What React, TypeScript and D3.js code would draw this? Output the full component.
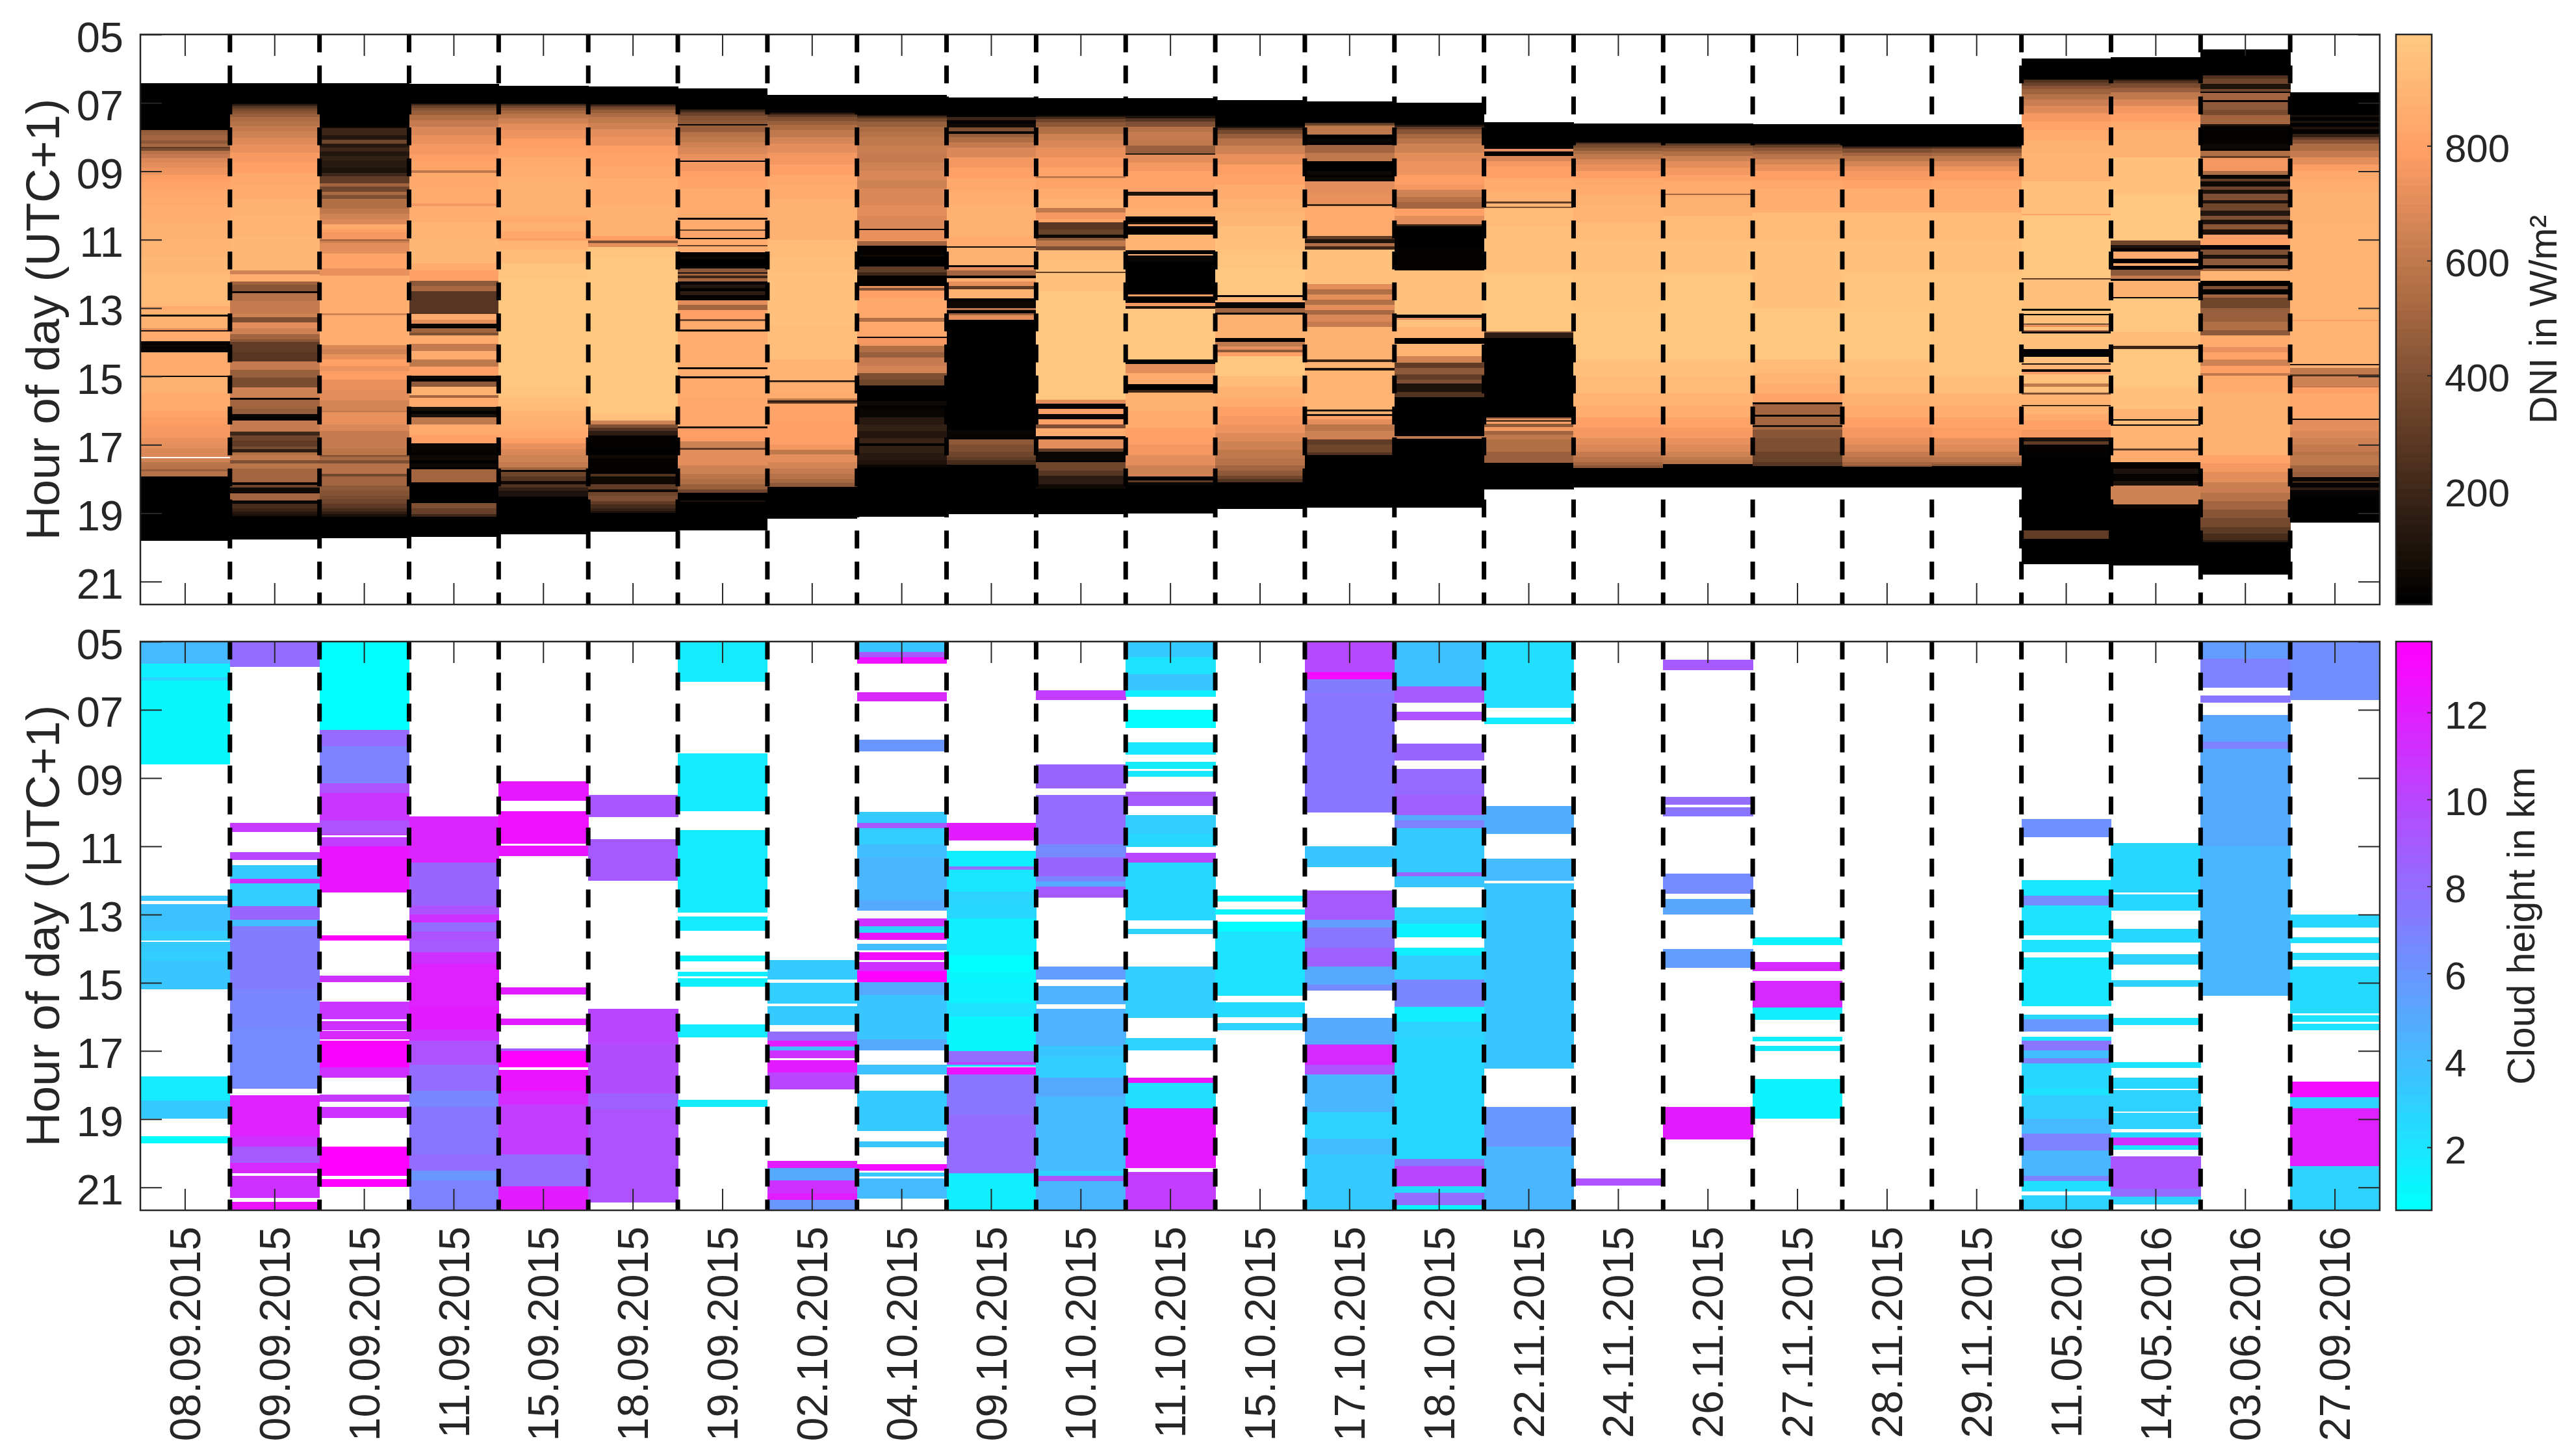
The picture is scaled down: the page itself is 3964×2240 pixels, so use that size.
import { useEffect, useRef } from 'react';
import * as d3 from 'd3';

const dates = ['08.09.2015', '09.09.2015', '10.09.2015', '11.09.2015', '15.09.2015', '18.09.2015', '19.09.2015', '02.10.2015', '04.10.2015', '09.10.2015', '10.10.2015', '11.10.2015', '15.10.2015', '17.10.2015', '18.10.2015', '22.11.2015', '24.11.2015', '26.11.2015', '27.11.2015', '28.11.2015', '29.11.2015', '11.05.2016', '14.05.2016', '03.06.2016', '27.09.2016'];
const hourTicks = [5, 7, 9, 11, 13, 15, 17, 19, 21];
const hourRange = [5, 21.67];
const dniTicks = [200, 400, 600, 800];
const dniRange = [1, 994];
const cloudTicks = [2, 4, 6, 8, 10, 12];
const cloudRange = [0.55, 13.63];

// DNI per day: [hour the step starts, W/m2], null closes the day or marks a gap
const dni0809 = [[6.42,5],[7.8,440],[7.86,470],[7.95,500],[8.1,450],[8.2,520],[8.29,300],[8.33,380],[8.4,560],[8.5,620],[8.62,670],[8.75,710],[8.9,740],[9.1,780],[9.3,810],[9.5,830],[9.75,850],[10,860],[10.5,880],[11,900],[11.5,915],[12,930],[12.9,925],[12.95,840],[13.05,880],[13.2,60],[13.24,880],[13.6,700],[13.64,120],[13.68,850],[13.98,20],[14.08,60],[14.12,20],[14.3,850],[14.98,50],[15.02,880],[15.5,840],[16,810],[16.2,790],[16.4,770],[16.6,750],[16.8,730],[16.95,700],[17.1,680],[17.35,null],[17.39,640],[17.5,590],[17.6,560],[17.72,480],[17.78,560],[17.92,5],[19.8,null]];
const dni0909 = [[6.42,5],[7.01,60],[7.04,130],[7.07,200],[7.1,270],[7.14,330],[7.18,380],[7.24,430],[7.32,480],[7.42,530],[7.54,570],[7.68,610],[7.84,650],[8.02,690],[8.22,730],[8.46,770],[8.74,800],[9.05,825],[9.4,850],[9.8,870],[10.3,890],[10.9,905],[11.5,915],[11.9,650],[12.02,860],[12.22,500],[12.32,420],[12.5,60],[12.56,560],[12.8,620],[13.17,650],[13.26,400],[13.42,700],[13.6,640],[13.76,500],[13.92,430],[14,300],[14.3,270],[14.57,620],[14.8,480],[15.04,380],[15.32,640],[15.62,50],[15.68,500],[15.95,460],[16.1,40],[16.18,10],[16.26,30],[16.3,620],[16.62,200],[16.72,350],[16.88,300],[17.05,380],[17.13,150],[17.22,550],[17.3,600],[17.45,400],[17.55,580],[17.7,500],[18.1,30],[18.17,350],[18.25,60],[18.42,500],[18.62,40],[18.72,230],[18.85,180],[18.95,120],[19.02,80],[19.08,5],[19.77,null]];
const dni1009 = [[6.42,5],[7.69,60],[7.74,200],[7.95,120],[8.08,350],[8.2,130],[8.3,200],[8.42,110],[8.55,170],[8.68,130],[8.9,100],[9.05,200],[9.15,300],[9.35,500],[9.45,350],[9.6,520],[9.7,400],[9.8,550],[10.1,600],[10.25,650],[10.4,680],[10.55,850],[10.7,780],[10.8,750],[10.98,520],[11.05,640],[11.1,700],[11.4,820],[11.85,720],[12.05,860],[13.16,650],[13.22,860],[14.08,680],[14.2,640],[14.35,720],[14.5,800],[14.7,740],[14.85,780],[15.1,720],[15.4,700],[15.7,660],[16,600],[16.05,720],[16.4,680],[16.6,620],[17.1,580],[17.3,420],[17.35,520],[17.45,400],[17.55,560],[17.85,350],[17.92,500],[18.2,450],[18.35,410],[18.5,380],[18.6,350],[18.72,290],[18.85,220],[18.95,150],[19.03,80],[19.1,5],[19.73,null]];
const dni1109 = [[6.45,5],[7.01,80],[7.04,200],[7.08,330],[7.14,410],[7.22,480],[7.35,550],[7.5,620],[7.7,670],[7.95,720],[8.2,760],[8.5,790],[8.7,820],[8.98,600],[9.04,830],[9.5,850],[9.95,750],[10.02,860],[10.5,890],[11,905],[11.7,840],[11.9,800],[12.2,450],[12.35,520],[12.5,280],[13.17,850],[13.35,700],[13.45,40],[13.55,10],[13.6,500],[13.72,400],[13.8,850],[14.05,620],[14.25,850],[14.5,600],[14.72,800],[14.97,50],[15.08,10],[15.15,450],[15.3,870],[15.55,500],[15.62,840],[15.9,80],[16,20],[16.1,80],[16.2,600],[16.4,850],[16.7,800],[16.95,40],[17.2,20],[17.3,50],[17.45,10],[17.55,60],[17.65,10],[17.72,500],[18.1,5],[18.7,400],[18.85,320],[19.02,200],[19.1,5],[19.69,null]];
const dni1509 = [[6.5,5],[7.01,70],[7.03,170],[7.06,280],[7.1,370],[7.15,450],[7.22,520],[7.32,590],[7.45,650],[7.6,700],[7.8,740],[8.05,780],[8.3,810],[8.6,840],[8.9,860],[9.2,875],[9.57,885],[10.33,850],[10.5,870],[10.75,835],[10.97,790],[11.03,890],[11.3,930],[11.7,965],[12.1,985],[12.5,992],[15,985],[15.3,965],[15.6,940],[15.8,920],[16,900],[16.2,885],[16.43,865],[16.6,830],[16.8,790],[16.95,730],[17.13,670],[17.3,640],[17.5,610],[17.65,500],[17.73,40],[17.8,350],[17.92,280],[18.05,60],[18.15,250],[18.25,170],[18.35,100],[18.52,5],[19.62,null]];
const dni1809 = [[6.53,5],[7.03,90],[7.06,200],[7.09,300],[7.13,380],[7.2,470],[7.3,540],[7.42,600],[7.58,650],[7.78,700],[8,740],[8.25,780],[8.5,810],[8.85,835],[9.2,855],[9.6,865],[10,875],[10.5,885],[10.9,790],[11.03,400],[11.1,700],[11.22,970],[11.5,980],[16.1,950],[16.3,650],[16.4,400],[16.5,250],[16.6,150],[16.72,30],[17.1,10],[17.3,60],[17.4,20],[17.85,250],[17.92,60],[18.15,300],[18.3,60],[18.38,350],[18.5,400],[18.65,300],[18.75,230],[18.85,170],[18.93,100],[18.99,5],[19.53,null]];
const dni1909 = [[6.57,5],[7.19,130],[7.22,220],[7.28,340],[7.38,410],[7.5,450],[7.63,40],[7.67,480],[7.85,560],[8,600],[8.15,640],[8.3,680],[8.5,730],[8.68,30],[8.73,760],[9,800],[9.2,820],[9.5,840],[9.8,850],[10.36,20],[10.41,850],[10.7,300],[10.74,820],[10.94,20],[10.99,850],[11.15,300],[11.2,850],[11.37,20],[11.5,60],[11.55,10],[11.78,40],[11.85,450],[11.95,100],[12,500],[12.06,200],[12.12,500],[12.22,40],[12.32,120],[12.42,30],[12.5,150],[12.62,20],[12.77,700],[12.9,500],[13.05,800],[13.33,350],[13.38,850],[13.63,20],[13.68,860],[14.74,50],[14.78,860],[15,20],[15.05,840],[15.6,830],[16.47,100],[16.51,780],[16.9,650],[17.08,300],[17.15,700],[17.6,640],[17.85,590],[18,550],[18.15,470],[18.3,350],[18.41,5],[18.62,100],[18.66,5],[19.5,null]];
const dni0210 = [[6.76,5],[7.28,100],[7.31,210],[7.35,310],[7.42,400],[7.52,480],[7.65,540],[7.8,600],[8,660],[8.2,710],[8.45,750],[8.8,800],[9.1,830],[9.4,850],[9.8,870],[10.3,885],[11,920],[11.5,945],[12,955],[13.5,935],[14.5,890],[15.12,200],[15.17,860],[15.5,840],[15.65,600],[15.7,150],[15.76,300],[15.8,820],[16.3,800],[17,760],[17.15,600],[17.28,700],[17.5,660],[17.7,610],[17.85,570],[18,520],[18.12,440],[18.23,5],[19.15,null]];
const dni0410 = [[6.76,5],[7.36,120],[7.4,260],[7.45,380],[7.55,470],[7.7,530],[7.85,570],[8,600],[8.25,630],[8.5,610],[8.75,650],[9,680],[9.25,650],[9.5,670],[10,700],[10.3,680],[10.69,60],[10.73,720],[11,740],[11.05,500],[11.17,20],[11.45,50],[11.5,10],[11.78,300],[11.95,200],[12.05,30],[12.36,700],[12.42,400],[12.48,800],[12.7,830],[13.28,550],[13.4,830],[13.83,60],[13.88,760],[14.1,550],[14.3,480],[14.45,620],[14.7,660],[14.9,400],[15.1,350],[15.27,5],[15.73,60],[15.85,20],[15.95,40],[16.2,130],[16.4,170],[16.6,120],[16.8,180],[16.95,30],[17.03,170],[17.25,130],[17.45,100],[17.58,40],[17.65,5],[19.1,null]];
const dni0910 = [[6.84,5],[7.42,200],[7.5,30],[7.6,60],[7.72,400],[7.83,40],[7.9,480],[8,540],[8.15,620],[8.3,680],[8.6,750],[8.9,800],[9.2,830],[9.6,860],[10,880],[10.5,870],[10.9,850],[11.2,60],[11.24,870],[11.74,30],[11.8,700],[11.9,500],[12.05,40],[12.12,860],[12.22,700],[12.35,300],[12.45,870],[12.71,30],[12.82,60],[13,600],[13.06,20],[13.15,500],[13.22,700],[13.35,5],[16.55,40],[16.75,30],[16.85,450],[17,400],[17.2,350],[17.35,300],[17.45,220],[17.58,5],[19.02,null]];
const dni1010 = [[6.87,5],[7.38,80],[7.42,220],[7.47,350],[7.56,450],[7.7,550],[7.9,640],[8.1,680],[8.3,720],[8.6,770],[8.9,810],[9.14,600],[9.2,820],[9.5,850],[9.8,870],[10.08,600],[10.2,760],[10.4,820],[10.5,280],[10.7,330],[10.85,50],[10.95,450],[11.02,600],[11.2,400],[11.31,920],[11.6,950],[11.93,300],[11.97,960],[12.5,990],[15.68,700],[15.8,30],[15.95,800],[16.1,40],[16.25,800],[16.4,400],[16.52,850],[16.75,40],[16.85,700],[17.1,300],[17.2,40],[17.45,30],[17.5,350],[17.75,280],[17.9,150],[18.15,60],[18.28,5],[19.02,null]];
const dni1110 = [[6.87,5],[7.38,100],[7.45,280],[7.55,400],[7.7,560],[7.85,620],[8.1,600],[8.25,480],[8.47,120],[8.52,700],[8.75,760],[9,810],[9.6,100],[9.72,850],[10.1,870],[10.33,20],[10.5,100],[10.55,800],[10.6,20],[10.85,900],[11.32,30],[11.42,900],[11.46,40],[11.65,5],[12.6,800],[12.66,5],[12.85,750],[12.95,100],[13.02,980],[14.5,5],[14.63,700],[14.9,850],[15.22,5],[15.4,200],[15.47,870],[16,840],[16.5,800],[17,750],[17.3,700],[17.6,650],[17.93,5],[18.04,300],[18.1,40],[18.2,5],[19,null]];
const dni1510 = [[6.92,5],[7.69,120],[7.74,260],[7.8,370],[7.9,470],[8.05,560],[8.25,640],[8.5,720],[8.8,780],[9.1,820],[9.4,850],[9.8,885],[10.2,910],[10.6,940],[11,960],[11.4,975],[11.8,985],[12.63,20],[12.67,900],[12.83,40],[13,500],[13.13,10],[13.2,880],[13.87,30],[14,600],[14.12,700],[14.22,450],[14.3,800],[14.4,980],[15,930],[15.3,880],[15.6,840],[15.9,800],[16.15,770],[16.4,740],[16.65,690],[16.9,650],[17.15,600],[17.4,560],[17.6,510],[17.75,450],[17.9,350],[18,250],[18.1,5],[18.87,null]];
const dni1710 = [[6.95,5],[7.58,300],[7.64,450],[7.68,600],[7.93,5],[8.05,40],[8.15,10],[8.23,500],[8.45,600],[8.7,5],[9,50],[9.1,30],[9.18,60],[9.3,700],[9.65,720],[9.97,200],[10.02,840],[10.9,300],[10.98,100],[11.1,550],[11.2,200],[11.3,950],[12.3,700],[12.45,550],[12.6,700],[12.75,550],[12.9,700],[13.05,520],[13.2,680],[13.4,620],[13.55,880],[14.5,200],[14.58,880],[14.75,100],[14.82,900],[15.97,120],[16.02,880],[16.1,100],[16.15,800],[16.25,700],[16.4,580],[16.6,650],[16.84,300],[17,350],[17.22,250],[17.3,5],[18.83,null]];
const dni1810 = [[6.99,5],[7.65,120],[7.7,300],[7.78,420],[7.9,520],[8.05,590],[8.2,650],[8.45,700],[8.7,740],[9.1,780],[9.4,760],[9.55,650],[9.75,560],[9.9,500],[10.1,800],[10.3,700],[10.55,200],[10.6,10],[11.26,30],[11.9,950],[13.2,40],[13.28,700],[13.35,950],[13.55,900],[13.87,20],[14.05,900],[14.4,650],[14.6,300],[14.75,450],[14.95,300],[15.1,400],[15.2,100],[15.45,250],[15.6,5],[16.75,600],[16.82,5],[18.83,null]];
const dni2211 = [[7.56,5],[8.35,700],[8.42,5],[8.56,680],[8.7,750],[8.85,800],[9.2,850],[9.6,885],[9.88,300],[9.94,900],[10.03,400],[10.07,930],[10.6,960],[12,980],[13.6,990],[13.68,400],[13.73,150],[13.87,5],[16.2,400],[16.24,800],[16.28,300],[16.32,800],[16.38,450],[16.48,750],[16.6,500],[16.7,600],[16.85,550],[17.2,480],[17.53,20],[17.6,5],[18.3,null]];
const dni2411 = [[7.6,5],[8.15,150],[8.18,280],[8.22,370],[8.3,450],[8.4,530],[8.5,600],[8.65,670],[8.8,720],[9,780],[9.2,825],[9.4,850],[9.7,880],[10,900],[10.5,925],[11,950],[12,975],[13,990],[14.5,950],[15,925],[15.5,900],[15.85,860],[16.2,800],[16.5,760],[16.8,710],[17,670],[17.2,620],[17.35,570],[17.5,500],[17.6,420],[17.67,5],[18.24,null]];
const dni2611 = [[7.6,5],[8.17,150],[8.2,290],[8.25,390],[8.33,470],[8.43,550],[8.55,640],[8.7,700],[8.9,760],[9.1,810],[9.3,850],[9.66,500],[9.7,880],[10.3,930],[11,960],[12,980],[13,990],[14.5,960],[15,930],[15.5,900],[15.85,860],[16.2,810],[16.5,770],[16.8,730],[17,690],[17.2,640],[17.35,600],[17.45,560],[17.56,5],[18.24,null]];
const dni2711 = [[7.63,5],[8.2,170],[8.24,320],[8.3,420],[8.4,510],[8.5,590],[8.65,660],[8.8,730],[9,790],[9.25,830],[9.5,860],[10.2,920],[11,960],[13,980],[14.5,930],[14.9,890],[15.2,860],[15.5,820],[15.75,10],[15.82,500],[16.07,520],[16.12,20],[16.17,500],[16.42,80],[16.48,520],[16.55,420],[16.8,400],[17.2,340],[17.5,280],[17.62,5],[18.24,null]];
const dni2811 = [[7.63,5],[8.27,140],[8.3,280],[8.35,400],[8.45,500],[8.55,580],[8.7,660],[8.85,730],[9,770],[9.25,820],[9.5,855],[10.2,920],[11,955],[12,972],[13,980],[14.5,960],[15,925],[15.5,880],[15.85,840],[16.2,800],[16.5,760],[16.8,715],[17,670],[17.2,620],[17.35,570],[17.5,500],[17.6,420],[17.64,5],[18.24,null]];
const dni2911 = [[7.63,5],[8.27,150],[8.3,290],[8.35,420],[8.45,520],[8.55,600],[8.7,680],[8.85,740],[9,780],[9.25,825],[9.5,855],[10.2,920],[11,955],[12,970],[13,975],[14.5,970],[15,940],[15.5,900],[15.85,865],[16.2,820],[16.5,780],[16.8,730],[17,685],[17.2,630],[17.35,580],[17.5,510],[17.57,430],[17.62,5],[18.24,null]];
const dni1105 = [[5.71,5],[6.31,110],[6.34,250],[6.4,340],[6.5,420],[6.6,490],[6.75,570],[6.9,630],[7.1,690],[7.3,750],[7.55,810],[7.8,850],[8.1,875],[8.5,900],[9.3,950],[10.25,800],[10.29,980],[11,990],[12.13,300],[12.17,960],[13.03,30],[13.07,950],[13.17,30],[13.21,950],[13.45,40],[13.48,700],[13.55,950],[13.65,500],[13.69,40],[13.75,950],[14.2,5],[14.43,950],[14.62,100],[14.66,900],[14.78,100],[14.82,20],[14.86,800],[14.95,950],[15.2,600],[15.3,950],[15.47,400],[15.53,900],[15.83,200],[15.87,900],[16.1,850],[16.3,800],[16.55,750],[16.78,80],[16.9,300],[17,20],[17.36,5],[19.5,300],[19.75,5],[20.48,null]];
const dni1405 = [[5.67,5],[6.31,130],[6.35,280],[6.42,380],[6.55,480],[6.7,600],[6.9,680],[7.1,750],[7.3,800],[7.55,850],[7.8,880],[8.6,950],[9.7,980],[11.03,350],[11.15,100],[11.26,30],[11.35,850],[11.55,10],[11.7,850],[11.76,10],[11.88,450],[12.05,620],[12.15,30],[12.2,880],[12.67,40],[12.72,980],[13.7,920],[14.1,200],[14.2,980],[15.3,950],[15.95,900],[16.26,20],[16.3,940],[16.4,30],[16.44,900],[17.1,300],[17.16,850],[17.5,30],[17.7,100],[17.85,30],[18.05,100],[18.2,650],[18.75,40],[18.85,5],[20.52,null]];
const dni0306 = [[5.44,5],[6.2,250],[6.3,350],[6.45,100],[6.6,350],[6.68,30],[6.72,500],[6.92,20],[6.98,450],[7.2,380],[7.35,500],[7.62,100],[7.68,20],[8.2,60],[8.35,30],[8.4,550],[8.55,300],[8.62,750],[9,550],[9.1,20],[9.22,300],[9.3,60],[9.45,350],[9.55,100],[9.65,400],[9.85,100],[9.95,350],[10.15,120],[10.3,400],[10.42,100],[10.55,420],[10.7,100],[10.85,800],[11.15,30],[11.3,400],[11.45,100],[11.55,450],[11.75,30],[11.85,500],[11.92,900],[12.2,30],[12.35,400],[12.45,30],[12.6,500],[12.7,350],[13,480],[13.4,550],[13.65,450],[13.8,850],[14.15,720],[14.3,820],[14.5,650],[14.7,800],[14.9,600],[14.97,850],[15.5,870],[16.4,880],[16.9,870],[17.3,810],[17.55,760],[17.8,700],[18.1,630],[18.4,560],[18.65,500],[18.9,430],[19.15,360],[19.4,290],[19.6,220],[19.78,130],[19.84,5],[20.79,null]];
const dni2709 = [[6.69,5],[7.36,80],[7.42,20],[7.52,100],[7.58,10],[7.7,100],[7.78,20],[7.9,170],[8,320],[8.08,420],[8.2,540],[8.4,620],[8.6,710],[8.8,780],[9,830],[9.3,860],[9.6,880],[10.5,900],[13.35,780],[13.39,900],[14.64,100],[14.68,880],[14.75,600],[14.95,250],[15,650],[15.28,600],[15.33,800],[15.5,830],[16.24,30],[16.28,700],[16.6,680],[16.8,650],[17,620],[17.2,560],[17.3,600],[17.6,500],[17.8,480],[17.95,40],[18.05,200],[18.12,30],[18.25,150],[18.32,30],[18.55,5],[19.27,null]];
const dniColumns = [dni0809, dni0909, dni1009, dni1109, dni1509, dni1809, dni1909, dni0210, dni0410, dni0910, dni1010, dni1110, dni1510, dni1710, dni1810, dni2211, dni2411, dni2611, dni2711, dni2811, dni2911, dni1105, dni1405, dni0306, dni2709];

// Cloud height per day: [from hour, to hour, km]
const cloud0809 = [[5,5.65,4.2],[5.65,6.04,1.4],[6.04,6.15,3],[6.15,8.6,1],[12.45,12.6,3.6],[12.7,13.48,3.8],[13.48,13.76,3.2],[13.81,14.1,3.4],[14.1,14.36,3.2],[14.36,15.19,3.6],[17.75,18.45,1.6],[18.45,18.98,3.4],[19.5,19.7,0.8]];
const cloud0909 = [[5,5.73,8],[10.32,10.58,10.6],[11.17,11.4,10],[11.56,11.95,3.4],[11.95,12.09,11],[12.09,12.76,3.2],[12.76,13.16,8.5],[13.16,13.35,4],[13.35,15.2,7.2],[15.2,16.3,6.8],[16.3,18.1,6.5],[18.3,19.5,11.8],[19.5,19.8,11],[19.8,20.27,9],[20.27,20.58,11.5],[20.66,21.3,11],[21.42,21.67,12.5]];
const cloud1009 = [[5,7.6,0.6],[7.6,8.07,8.2],[8.07,9.15,7],[9.15,9.43,9.5],[9.43,10.24,10.8],[10.24,10.63,9.5],[10.63,10.68,10.5],[10.74,11,10.5],[11,12.34,12.5],[13.62,13.75,13.6],[14.8,14.98,11],[15.55,16.07,10.8],[16.13,16.38,11],[16.42,16.66,11.5],[16.7,17.47,13.4],[17.47,17.78,11],[18.28,18.48,10.6],[18.64,18.95,11],[19.8,20.66,13.5],[20.76,20.98,13.5]];
const cloud1109 = [[10.12,11.48,11.6],[11.48,12.73,8.5],[12.73,13,9.5],[13,13.23,11],[13.23,13.5,8],[13.5,13.74,9.5],[13.74,14.1,9],[14.1,14.45,11],[14.45,15.68,11.8],[15.68,16.38,12],[16.38,16.7,11],[16.7,17.4,9.5],[17.4,18.17,8],[18.17,18.64,6.8],[18.64,20.04,7.5],[20.04,20.5,8],[20.5,20.79,6],[20.79,21.67,7]];
const cloud1509 = [[9.09,9.67,12.2],[9.98,10.92,12.8],[10.99,11.28,12.6],[15.14,15.34,12],[16.05,16.24,12],[16.93,17,9],[17,17.47,13.6],[17.55,18.17,12.5],[18.17,18.56,11.5],[18.56,20.04,10.5],[20.04,20.97,8],[20.97,21.67,12]];
const cloud1809 = [[9.5,10.13,9.3],[10.8,12,9],[15.76,16.78,10],[16.78,18.25,9.6],[18.25,18.72,8.6],[18.72,21.44,9.5]];
const cloud1909 = [[5,6.17,1.6],[8.27,9.96,1.6],[10.52,12.93,1.6],[13.05,13.48,1.6],[14.2,14.36,1],[14.67,14.8,1.4],[14.86,15.12,1.4],[16.23,16.59,1.6],[18.44,18.64,1.6]];
const cloud0210 = [[14.33,14.91,3.4],[15,15.6,3.2],[15.68,16.23,3.4],[16.43,16.7,8],[16.7,16.86,12],[16.86,16.98,4],[16.98,17.2,11],[17.27,17.63,12],[17.63,18.12,10],[20.22,20.43,12],[20.43,20.79,5],[20.79,21.17,11],[21.17,21.37,12],[21.37,21.67,6]];
const cloud0410 = [[5,5.3,3.6],[5.3,5.45,9],[5.45,5.65,12.8],[6.48,6.74,11.5],[7.88,8.22,6],[10,10.32,3.4],[10.32,10.47,9],[10.47,10.95,3.2],[10.95,11.33,4],[11.33,12.58,4.4],[12.58,12.89,5],[13.11,13.35,11],[13.35,13.54,3],[13.54,13.74,12.5],[13.85,14.05,4],[14.1,14.32,13],[14.4,14.66,11],[14.66,14.98,13.6],[14.98,15.37,5],[15.37,16.65,3.6],[16.65,16.98,5],[17.4,17.68,3.8],[18.17,19.34,3.4],[19.65,19.82,3.6],[20.32,20.5,13],[20.57,20.67,3.4],[20.74,21.33,4.2]];
const cloud0910 = [[10.32,10.83,12],[11.14,11.6,1.4],[11.6,11.69,8],[11.69,12.34,1.8],[12.34,12.58,3],[12.58,13.12,2.6],[13.12,14.2,1.5],[14.2,14.67,0.6],[14.67,14.98,1],[14.98,15.6,1.3],[15.6,16,2],[16,17,1],[17,17.32,8],[17.32,17.4,10],[17.4,17.45,2],[17.47,17.68,12.5],[17.68,18.87,7.5],[18.87,20.58,8],[20.58,21.67,1.4]];
const cloud1010 = [[6.43,6.7,10.5],[8.6,9.3,8.5],[9.5,10.95,8],[10.95,11.33,6.6],[11.33,11.88,8.5],[11.88,12.03,7],[12.03,12.19,5],[12.19,12.5,9],[14.52,14.9,5.5],[15.09,15.63,4.6],[15.77,16.85,4.5],[16.85,17.16,3.6],[17.16,17.78,3.2],[17.78,18.33,5],[18.33,20.5,4.2],[20.5,20.66,3],[20.66,20.82,9.5],[20.82,21.67,4.4]];
const cloud1110 = [[5,5.45,3.4],[5.45,5.96,2],[5.96,6.43,3.6],[6.43,6.62,1.5],[7,7.52,0.9],[7.95,8.3,1.8],[8.53,8.72,1.6],[8.8,8.95,1.8],[9.4,9.82,9],[10.09,10.63,3.2],[10.63,11.02,2.6],[11.2,11.48,10],[11.48,13.17,2.6],[13.43,13.57,3],[14.52,16.03,3.2],[16.62,16.98,2.8],[17.78,17.94,12.5],[17.94,18.68,2.2],[18.68,20.42,12.4],[20.55,21.67,10.5]];
const cloud1510 = [[12.45,12.62,1],[12.85,13,1],[13.22,13.5,0.9],[13.5,15.37,2.1],[15.57,16,2.4],[16.18,16.38,2.8]];
const cloud1710 = [[5,5.9,9.8],[5.9,6.1,13.2],[6.1,6.5,7.2],[6.5,10,7.5],[11,11.6,3.6],[12.3,13.15,9],[13.15,13.38,5.5],[13.38,13.97,7.5],[13.97,14.52,8.6],[14.52,15.06,5],[15.06,15.22,6.5],[16.04,16.82,5],[16.82,17.4,11.4],[17.4,17.68,9.5],[17.68,18.8,4.4],[18.8,19.57,3],[19.57,20.04,4],[20.04,21.67,3.4]];
const cloud1810 = [[5,6.32,3.8],[6.32,6.79,9],[7.05,7.29,9.5],[7.99,8.48,8.5],[8.73,9.5,8.2],[9.5,10.09,8.6],[10.09,10.24,5],[10.24,10.47,7],[10.47,11.77,3.4],[11.77,11.88,8.5],[11.88,12.19,3.6],[12.8,13.27,3],[13.27,13.66,1.2],[13.97,14.2,1.4],[14.2,14.9,3.2],[14.9,15.7,6.8],[15.7,16.15,1.5],[16.15,16.6,3],[16.6,20.17,2.6],[20.17,20.38,7.5],[20.38,20.97,10],[20.97,21.15,2.4],[21.15,21.52,8],[21.52,21.67,1.2]];
const cloud2211 = [[5,6.93,2.2],[7.22,7.41,1.6],[9.82,10.63,4.8],[11.36,12,4.2],[12.08,17.52,3.6],[18.65,19.8,6],[19.8,21.67,4.4]];
const cloud2411 = [[20.74,20.94,9.5]];
const cloud2611 = [[5.53,5.84,9],[9.56,9.77,8],[9.85,10.12,7.5],[11.8,12.39,6.6],[12.54,13,5.2],[14.02,14.55,5.5],[18.65,19.58,12]];
const cloud2711 = [[13.66,13.9,1.2],[14.4,14.65,11.5],[14.94,15.73,11.5],[15.73,16.09,1.5],[16.58,16.71,1.5],[16.85,17,1.6],[17.82,18.98,1.3]];
const cloud2811 = [];
const cloud2911 = [];
const cloud1105 = [[10.2,10.72,6.2],[12,12.45,1.8],[12.45,12.73,6.5],[12.73,13.6,2],[13.74,14.1,2],[14.25,15.68,1.8],[15.94,16.07,2.6],[16.07,16.42,6],[16.59,16.7,1.8],[16.7,16.98,7.5],[16.98,17.22,4],[17.22,17.37,7],[17.37,18.1,2.6],[18.1,18.29,2],[18.29,18.98,3.2],[18.98,19.42,4.2],[19.42,19.91,7],[19.91,20.66,4.4],[20.66,20.82,7],[20.82,21.12,2.2],[21.24,21.67,3]];
const cloud1405 = [[10.91,12.34,2.6],[12.42,12.88,2.6],[13.43,13.82,2.6],[14.16,14.47,3],[14.93,15.12,2.8],[16.04,16.23,2],[17.33,17.5,2],[17.78,18.1,2.6],[18.14,18.76,3],[18.82,19.29,3],[19.38,19.53,2.6],[19.53,19.77,11],[19.77,19.9,2],[20.09,21.05,9.2],[21.05,21.27,8],[21.27,21.5,3]];
const cloud0306 = [[5,5.5,5.5],[5.5,6.35,7],[6.59,6.79,7.5],[7.16,7.94,5.2],[7.94,8.14,7],[8.14,11,5],[11,15.37,4.4]];
const cloud2709 = [[5,6.7,6.4],[13,13.38,2.6],[13.66,13.83,2.2],[14.13,14.33,2.4],[14.53,15.9,2.4],[15.95,16.14,2],[16.2,16.38,2],[17.9,18.36,13],[18.36,18.67,3],[18.67,20.38,11.8],[20.38,21.67,2.8]];
const cloudColumns = [cloud0809, cloud0909, cloud1009, cloud1109, cloud1509, cloud1809, cloud1909, cloud0210, cloud0410, cloud0910, cloud1010, cloud1110, cloud1510, cloud1710, cloud1810, cloud2211, cloud2411, cloud2611, cloud2711, cloud2811, cloud2911, cloud1105, cloud1405, cloud0306, cloud2709];

const WIDTH = 3964;
const HEIGHT = 2240;
const INK = '#262626';
const FONT = '"Liberation Sans", Arial, sans-serif';
const LEVELS = 64;

// MATLAB's copper and cool maps
const copper = (t: number) => d3.rgb(Math.min(1, 1.25 * t) * 255, 0.7812 * t * 255, 0.4975 * t * 255).formatHex();
const cool = (t: number) => d3.rgb(t * 255, (1 - t) * 255, 255).formatHex();

function drawPanel(svg, opts) {
  const { top, bottom, cells, domain, ticks, map, barLabel, barLabelX, showDates } = opts;
  const left = 216;
  const right = 3662;
  const barLeft = 3687;
  const barRight = 3742;
  const tickLen = 33;

  const x = d3.scaleBand().domain(dates).range([left, right]);
  const y = d3.scaleLinear().domain(hourRange).range([top, bottom]);
  const color = d3.scaleQuantize().domain(domain).range(d3.range(LEVELS).map(i => map(i / (LEVELS - 1))));

  const g = svg.append('g');

  // Heatmap cells
  g.append('g')
    .attr('shape-rendering', 'crispEdges')
    .selectAll('rect')
    .data(cells)
    .join('rect')
    .attr('x', d => x(d.date))
    .attr('width', x.bandwidth() + 0.5)
    .attr('y', d => y(d.from))
    .attr('height', d => y(d.to) - y(d.from) + 0.3)
    .attr('fill', d => color(d.value));

  // Dashed day separators
  g.append('g')
    .selectAll('line')
    .data(dates.slice(1))
    .join('line')
    .attr('x1', d => x(d))
    .attr('x2', d => x(d))
    .attr('y1', top)
    .attr('y2', bottom)
    .attr('stroke', '#000')
    .attr('stroke-width', 7)
    .attr('stroke-dasharray', '27.5,20.2');

  // Axes
  const styleAxis = (sel, size = 65) => {
    sel.selectAll('.domain').remove();
    sel.selectAll('.tick line').attr('stroke', INK).attr('stroke-width', 2);
    sel.selectAll('text').attr('fill', INK).attr('font-size', size).attr('font-family', FONT).attr('dy', '0.4em');
  };

  g.append('g')
    .attr('transform', `translate(${left},0)`)
    .call(d3.axisLeft(y).tickValues(hourTicks).tickFormat(d3.format('02d')).tickSize(-tickLen).tickPadding(26))
    .call(styleAxis);
  g.append('g')
    .attr('transform', `translate(${right},0)`)
    .call(d3.axisRight(y).tickValues(hourTicks).tickFormat('').tickSize(-tickLen))
    .call(styleAxis);
  g.append('g')
    .attr('transform', `translate(0,${top})`)
    .call(d3.axisTop(x).tickFormat('').tickSize(-tickLen))
    .call(styleAxis);
  const xAxis = g.append('g')
    .attr('transform', `translate(0,${bottom})`)
    .call(d3.axisBottom(x).tickSize(-tickLen).tickFormat(showDates ? null : ''))
    .call(styleAxis, 66);
  xAxis.selectAll('text')
    .attr('transform', 'rotate(-90)')
    .attr('x', -25)
    .attr('y', 0)
    .attr('dy', '0.35em')
    .attr('text-anchor', 'end');

  g.append('rect')
    .attr('x', left)
    .attr('y', top)
    .attr('width', right - left)
    .attr('height', bottom - top)
    .attr('fill', 'none')
    .attr('stroke', INK)
    .attr('stroke-width', 2.5);

  g.append('text')
    .attr('transform', `translate(91,${(top + bottom) / 2}) rotate(-90)`)
    .attr('text-anchor', 'middle')
    .attr('fill', INK)
    .attr('font-size', 73)
    .attr('font-family', FONT)
    .text('Hour of day (UTC+1)');

  // Colorbar
  const barY = d3.scaleLinear().domain(domain).range([bottom, top]);
  const step = (domain[1] - domain[0]) / LEVELS;
  g.append('g')
    .attr('shape-rendering', 'crispEdges')
    .selectAll('rect')
    .data(d3.range(LEVELS))
    .join('rect')
    .attr('x', barLeft)
    .attr('width', barRight - barLeft)
    .attr('y', i => barY(domain[0] + (i + 1) * step))
    .attr('height', (bottom - top) / LEVELS + 0.5)
    .attr('fill', i => map(i / (LEVELS - 1)));

  g.append('g')
    .attr('transform', `translate(${barRight},0)`)
    .call(d3.axisRight(barY).tickValues(ticks).tickSize(-7).tickPadding(20))
    .call(styleAxis, 60);

  g.append('rect')
    .attr('x', barLeft)
    .attr('y', top)
    .attr('width', barRight - barLeft)
    .attr('height', bottom - top)
    .attr('fill', 'none')
    .attr('stroke', INK)
    .attr('stroke-width', 2.5);

  g.append('text')
    .attr('transform', `translate(${barLabelX},${(top + bottom) / 2}) rotate(-90)`)
    .attr('text-anchor', 'middle')
    .attr('fill', INK)
    .attr('font-size', 59)
    .attr('font-family', FONT)
    .text(barLabel);
}

export default function App() {
  const svgRef = useRef(null);

  useEffect(() => {
    const svg = d3.select(svgRef.current);
    svg.selectAll('*').remove();

    const dniCells = dates.flatMap((date, i) =>
      dniColumns[i].slice(0, -1).flatMap(([from, value], j) =>
        value === null ? [] : [{ date, from, to: dniColumns[i][j + 1][0], value }]));
    const cloudCells = dates.flatMap((date, i) =>
      cloudColumns[i].map(([from, to, value]) => ({ date, from, to, value })));

    drawPanel(svg, {
      top: 53, bottom: 930, cells: dniCells, domain: dniRange, ticks: dniTicks, map: copper,
      barLabel: 'DNI in W/m²', barLabelX: 3934, showDates: false,
    });
    drawPanel(svg, {
      top: 987, bottom: 1862, cells: cloudCells, domain: cloudRange, ticks: cloudTicks, map: cool,
      barLabel: 'Cloud height in km', barLabelX: 3900, showDates: true,
    });
  }, []);

  return (
    <svg
      ref={svgRef}
      width={WIDTH}
      height={HEIGHT}
      viewBox={`0 0 ${WIDTH} ${HEIGHT}`}
      style={{ position: 'absolute', left: 0, top: 0, display: 'block', background: '#fff' }}
    />
  );
}
